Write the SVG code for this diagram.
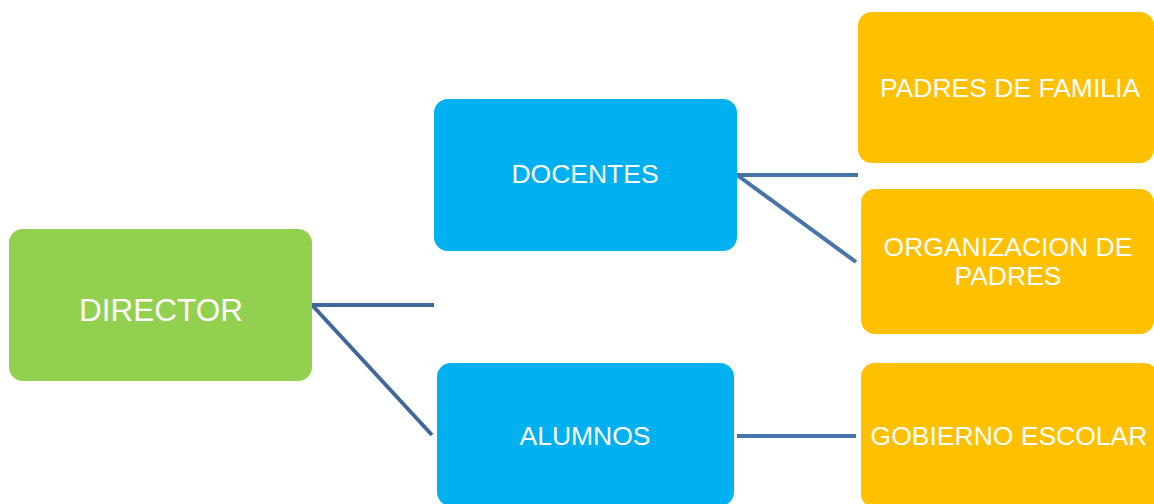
<svg xmlns="http://www.w3.org/2000/svg" width="1154" height="504" viewBox="0 0 1154 504">
<style>
.t{font-family:"Liberation Sans",Arial,sans-serif;fill:#ffffff;text-anchor:middle;font-size:26.5px}
.g{fill:#92D050}
.b{fill:#00B0F0}
.o{fill:#FFC000}
.c1{stroke:#3F6899;stroke-width:4;fill:none}
.c2{stroke:#4674AB;stroke-width:4;fill:none}
</style>
<rect width="1154" height="504" fill="#ffffff"/>
<g id="connectors">
<line class="c1" x1="312" y1="305" x2="434" y2="305"/>
<line class="c1" x1="312" y1="305" x2="432" y2="435"/>
<line class="c2" x1="737" y1="175" x2="858" y2="175"/>
<line class="c2" x1="737" y1="175" x2="856" y2="262"/>
<line class="c2" x1="737" y1="436" x2="856" y2="436"/>
</g>
<g id="director">
<rect class="g" x="9" y="229" width="303" height="152" rx="14"/>
<text class="t" x="161" y="321" style="font-size:31.5px">DIRECTOR</text>
</g>
<g id="docentes">
<rect class="b" x="434" y="99" width="303" height="152" rx="14"/>
<text class="t" x="585" y="183">DOCENTES</text>
</g>
<g id="alumnos">
<rect class="b" x="437" y="363" width="297" height="143" rx="14"/>
<text class="t" x="585" y="445">ALUMNOS</text>
</g>
<g id="padres-familia">
<rect class="o" x="858" y="12" width="296" height="151" rx="14"/>
<text class="t" x="1010" y="97">PADRES DE FAMILIA</text>
</g>
<g id="organizacion-padres">
<rect class="o" x="861" y="189" width="293" height="145" rx="14"/>
<text class="t" x="1008" y="256">ORGANIZACION DE</text>
<text class="t" x="1008" y="285">PADRES</text>
</g>
<g id="gobierno-escolar">
<rect class="o" x="861" y="363" width="297" height="145" rx="14"/>
<text class="t" x="1009" y="445">GOBIERNO ESCOLAR</text>
</g>
</svg>
